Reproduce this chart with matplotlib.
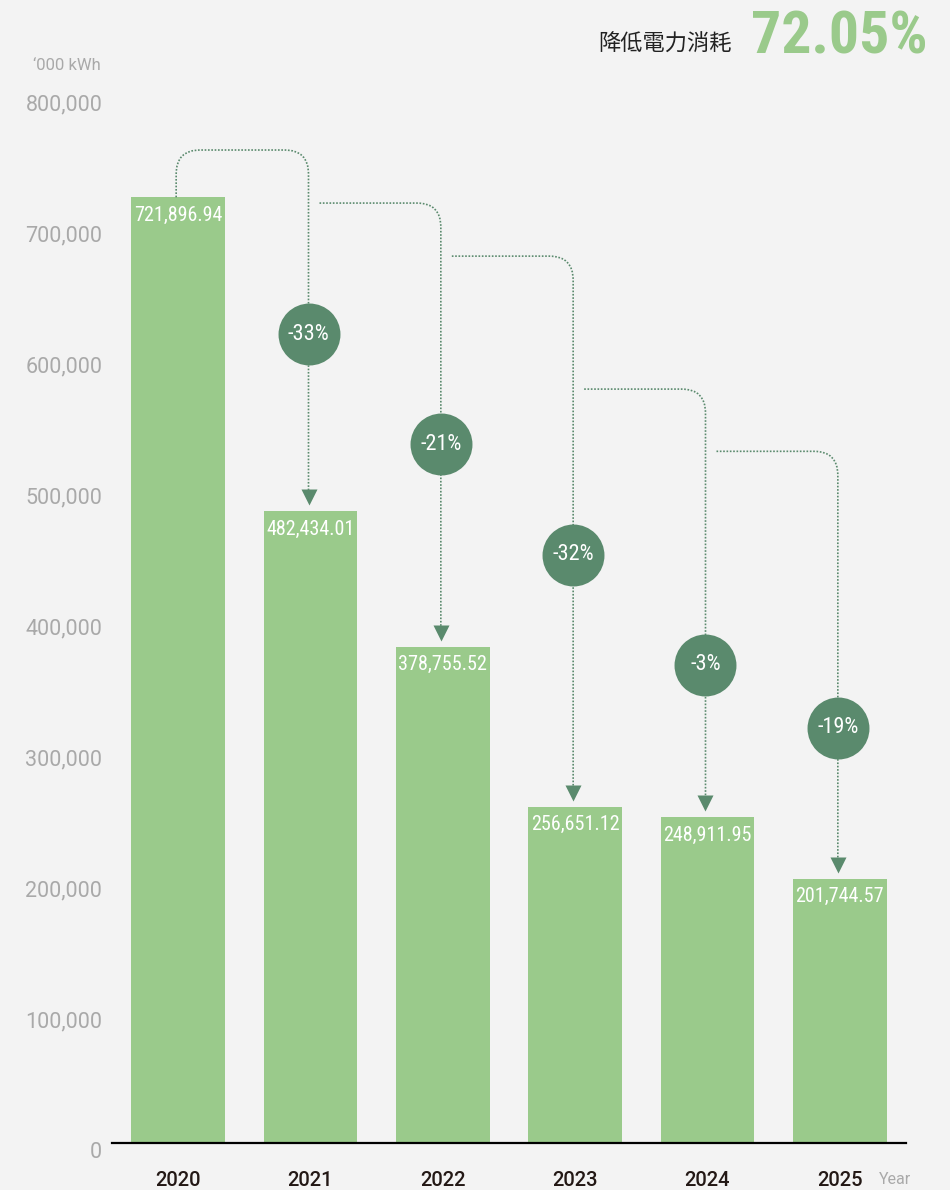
import matplotlib
matplotlib.use('Agg')
import matplotlib.pyplot as plt
from matplotlib.path import Path
from matplotlib.patches import PathPatch
from matplotlib.transforms import ScaledTranslation

# ---------------- data ----------------
years = ['2020', '2021', '2022', '2023', '2024', '2025']
values = [721896.94, 482434.01, 378755.52, 256651.12, 248911.95, 201744.57]
change_labels = ['-33%', '-21%', '-32%', '-3%', '-19%']
ytick_values = [0, 100000, 200000, 300000, 400000, 500000, 600000, 700000, 800000]
title_label = '降低電力消耗'
total_label = '72.05%'
unit_label = '\u2018000 kWh'
x_unit_label = 'Year'

# ---------------- layout (decoration positions) ----------------
connector_heights = [758000, 717500, 677000, 575500, 528000]
circle_heights = [617500, 533500, 449000, 365000, 317000]

BG = '#f3f3f3'
BAR = '#9aca8b'
DARK = '#5a8a6d'
GRAY = '#a9a9a9'
TXT = '#231815'
COND = ['Roboto Condensed', 'DejaVu Sans']

W, H = 950, 1190
fig = plt.figure(figsize=(W / 100, H / 100), dpi=100, facecolor=BG)
PX_PER_UNIT_Y = 131 / 100000
ax = fig.add_axes([112 / W, 47 / H, 794 / W, 1140 / H], facecolor=BG)
ax.set_xlim(-0.5, 5.5)
ax.set_ylim(0, 1140 / PX_PER_UNIT_Y)
px_x = 794 / 6.0  # px per x unit


def dy(px):
    return px / PX_PER_UNIT_Y


def dx(px):
    return px / px_x


x = list(range(len(years)))
ax.bar(x, values, width=0.71, color=BAR, zorder=2)

for xi, v in zip(x, values):
    ax.annotate(f'{v:,.2f}', (xi, v), xytext=(0, -13), textcoords='offset points',
                ha='center', va='center', color='white', fontsize=14.5,
                family=COND, zorder=5)

# connectors
r = 24
for k in range(len(values) - 1):
    h = connector_heights[k]
    x1 = k + 1 - dx(2)
    end = values[k + 1] + dy(20)
    if k == 0:
        x0 = k - dx(2)
        verts = [(x0, values[k]), (x0, h - dy(r)), (x0, h), (x0 + dx(r), h),
                 (x1 - dx(r), h), (x1, h), (x1, h - dy(r)), (x1, end)]
        codes = [Path.MOVETO, Path.LINETO, Path.CURVE3, Path.CURVE3,
                 Path.LINETO, Path.CURVE3, Path.CURVE3, Path.LINETO]
    else:
        xs = k + dx(9)
        verts = [(xs, h), (x1 - dx(r), h), (x1, h), (x1, h - dy(r)), (x1, end)]
        codes = [Path.MOVETO, Path.LINETO, Path.CURVE3, Path.CURVE3, Path.LINETO]
    ax.add_patch(PathPatch(Path(verts, codes), fill=False, edgecolor=DARK,
                           lw=1.2, linestyle=(0, (1, 1)), zorder=3))
    ax.plot([x1], [values[k + 1] + dy(14)], marker='v', ms=11.5, color=DARK,
            mec='none', zorder=4)
    ax.plot([x1], [circle_heights[k]], marker='o', ms=44.6, color=DARK,
            mec='none', zorder=4)
    ax.text(x1, circle_heights[k], change_labels[k], ha='center', va='center',
            color='white', fontsize=16, family=COND, zorder=5)

# axes styling
for s in ['top', 'right', 'left']:
    ax.spines[s].set_visible(False)
ax.spines['bottom'].set_color('black')
ax.spines['bottom'].set_linewidth(1.6)
ax.spines['bottom'].set_zorder(6)

ax.set_yticks(ytick_values)
ax.set_yticklabels([f'{v:,}' for v in ytick_values], fontsize=15.5,
                   color=GRAY, family='Roboto')
ax.tick_params(axis='y', length=0, pad=7)
off = ScaledTranslation(0, -0.07, fig.dpi_scale_trans)
for lbl in ax.get_yticklabels():
    lbl.set_transform(lbl.get_transform() + off)

ax.set_xticks(x)
ax.set_xticklabels(years, fontsize=14.5, color=TXT, family='Roboto', fontweight='medium')
ax.tick_params(axis='x', length=0, pad=20.5)

fig.text(895 / W, 1 - 1180 / H, x_unit_label, ha='center', va='center',
         fontsize=11.5, color=GRAY, family='Roboto')
fig.text(101 / W, 1 - 65 / H, unit_label, ha='right', va='center',
         fontsize=12, color=GRAY, family='Roboto')
fig.text(732 / W, 1 - 44 / H, title_label, ha='right', va='center',
         fontsize=16, color='#222222', family=['Noto Sans CJK TC', 'DejaVu Sans'])
fig.text(928 / W, 1 - 37 / H, total_label, ha='right', va='center',
         fontsize=43, color=BAR, family=COND, fontweight='bold')

fig.savefig('out.png', dpi=100, facecolor=BG)
